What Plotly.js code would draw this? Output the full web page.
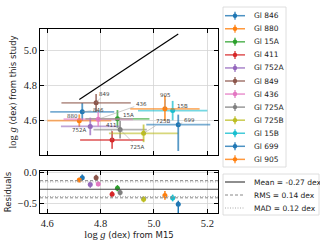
<!DOCTYPE html>
<html><head><meta charset="utf-8">
<script src="https://cdn.plot.ly/plotly-3.0.1.min.js"></script>
<style>html,body{margin:0;padding:0;background:#fff;}#chart{width:320px;height:240px;}</style>
</head><body><div id="chart"></div>
<script>
// ---- data ----
const stars = ['Gl 846','Gl 880','Gl 15A','Gl 411','Gl 752A','Gl 849','Gl 436','Gl 725A','Gl 725B','Gl 15B','Gl 699','Gl 905'];
const shortLabels = ['846','880','15A','411','752A','849','436','725A','725B','15B','699','905'];
const loggM15 = [4.731,4.720,4.863,4.843,4.761,4.783,4.791,4.873,4.961,5.070,5.091,5.041];
const loggStudy = [4.650,4.600,4.610,4.490,4.567,4.701,4.608,4.549,4.528,4.657,4.577,4.667];
const errM15 = [0.12,0.12,0.12,0.12,0.11,0.13,0.13,0.10,0.13,0.13,0.12,0.13];
const errStudyPlus = [0.05,0.035,0.05,0.05,0.05,0.05,0.04,0.05,0.05,0.055,0.057,0.075];
const errStudyMinus = [0.05,0.035,0.05,0.05,0.05,0.05,0.04,0.05,0.05,0.055,0.149,0.067];
const statNames = ['Mean','RMS','MAD'];
const statValues = [-0.27,0.14,0.12];

// ---- styles / positions ----
const colors = ['#1f77b4','#ff7f0e','#2ca02c','#d62728','#9467bd','#8c564b','#e377c2','#7f7f7f','#bcbd22','#17becf','#1f77b4','#ff7f0e'];
const labelOffsets = [[16,-2],[-7,-5],[11,-4],[-1,-15],[-11,4],[8,-9],[43,-15],[17,17],[19,-12],[10,-5],[11,-5],[1,-14]];
function rgba(hex,a){const n=parseInt(hex.slice(1),16);return `rgba(${n>>16},${(n>>8)&255},${n&255},${a})`;}

const W=320,H=240,L=40,R=218,T=29,B=213;
const px2x = p => (p-L)/(R-L);
const px2y = p => (B-p)/(B-T);

const SERIF = 'Liberation Serif';
const SANS = 'DejaVu Sans';

const traces = [];
for (let i=0;i<stars.length;i++){
  traces.push({
    x:[loggM15[i]], y:[loggStudy[i]], type:'scatter', mode:'markers', name:stars[i],
    xaxis:'x', yaxis:'y', showlegend:false,
    marker:{color:colors[i], size:5},
    error_x:{type:'data', array:[errM15[i]], color:rgba(colors[i],0.6), thickness:1.8, width:0},
    error_y:{type:'data', symmetric:false, array:[errStudyPlus[i]], arrayminus:[errStudyMinus[i]], color:rgba(colors[i],0.75), thickness:1.8, width:0}
  });
  traces.push({
    x:[loggM15[i]], y:[loggStudy[i]-loggM15[i]], type:'scatter', mode:'markers', name:stars[i],
    xaxis:'x2', yaxis:'y2', showlegend:false,
    marker:{color:colors[i], size:5},
    error_y:{type:'data', symmetric:false, array:[errStudyPlus[i]], arrayminus:[errStudyMinus[i]], color:colors[i], thickness:1.5, width:0}
  });
}
const lo = Math.min(...loggM15), hi = Math.max(...loggM15);
traces.push({x:[lo,hi], y:[lo,hi], type:'scatter', mode:'lines', xaxis:'x', yaxis:'y', showlegend:false, line:{color:'black', width:1.2}});

const annotations = [];
for (let i=0;i<stars.length;i++){
  annotations.push({x:loggM15[i], y:loggStudy[i], xref:'x', yref:'y', text:shortLabels[i],
    showarrow:true, arrowhead:0, arrowwidth:0.5, arrowcolor:'#999', ax:labelOffsets[i][0], ay:labelOffsets[i][1],
    standoff:0, font:{family:SANS, size:5.5, color:'#444'}});
}

const shapes = [];
const mean = statValues[0], rms = statValues[1], mad = statValues[2];
shapes.push({type:'line', xref:'x2 domain', yref:'y2', x0:0, x1:1, y0:mean, y1:mean, line:{color:'#444', width:1}});
[mean+rms, mean-rms].forEach(v=>shapes.push({type:'line', xref:'x2 domain', yref:'y2', x0:0, x1:1, y0:v, y1:v, line:{color:'#888', width:1, dash:'3px,2px'}}));
[mean+mad, mean-mad].forEach(v=>shapes.push({type:'line', xref:'x2 domain', yref:'y2', x0:0, x1:1, y0:v, y1:v, line:{color:'#aaa', width:1, dash:'1px,1.5px'}}));

// legend 1
shapes.push({type:'rect', xref:'paper', yref:'paper', x0:px2x(223), x1:px2x(286), y0:px2y(7), y1:px2y(167), line:{color:'#d6d6d6', width:0.8}, fillcolor:'rgba(255,255,255,0.9)'});
const gx0=225, gx1=245, gxm=235, tx=251.5;
for (let i=0;i<stars.length;i++){
  const ry = 15.7 + 13.06*i;
  shapes.push({type:'line', xref:'paper', yref:'paper', x0:px2x(gx0), x1:px2x(gx1), y0:px2y(ry), y1:px2y(ry), line:{color:rgba(colors[i],0.8), width:1.5}});
  shapes.push({type:'line', xref:'paper', yref:'paper', x0:px2x(gxm), x1:px2x(gxm), y0:px2y(ry-4), y1:px2y(ry+4), line:{color:rgba(colors[i],0.8), width:1.5}});
  shapes.push({type:'circle', xref:'paper', yref:'paper', x0:px2x(gxm-2.2), x1:px2x(gxm+2.2), y0:px2y(ry-2.2), y1:px2y(ry+2.2), line:{width:0}, fillcolor:colors[i]});
  annotations.push({xref:'paper', yref:'paper', x:px2x(tx), y:px2y(ry), xanchor:'left', yanchor:'middle', showarrow:false, text:stars[i], font:{family:SANS, size:7.5, color:'#222'}});
}
// legend 2
shapes.push({type:'rect', xref:'paper', yref:'paper', x0:px2x(223), x1:px2x(319), y0:px2y(174), y1:px2y(215), line:{color:'#d6d6d6', width:0.8}, fillcolor:'rgba(255,255,255,0.9)'});
const statStyles = [{color:'#444', width:1.2},{color:'#888', width:1, dash:'3px,2px'},{color:'#aaa', width:1, dash:'1px,1.5px'}];
const statText = [`${statNames[0]} = ${mean.toFixed(2)} dex`, `${statNames[1]} = ${rms.toFixed(2)} dex`, `${statNames[2]} = ${mad.toFixed(2)} dex`];
for (let i=0;i<3;i++){
  const ry = 182 + 13*i;
  shapes.push({type:'line', xref:'paper', yref:'paper', x0:px2x(gx0), x1:px2x(gx1), y0:px2y(ry), y1:px2y(ry), line:statStyles[i]});
  annotations.push({xref:'paper', yref:'paper', x:px2x(tx), y:px2y(ry), xanchor:'left', yanchor:'middle', showarrow:false, text:statText[i], font:{family:SANS, size:7.5, color:'#222'}});
}

const axCommon = {showline:true, linecolor:'black', linewidth:1, mirror:'ticks', ticks:'inside', ticklen:4, tickcolor:'black',
  showgrid:true, gridcolor:'#d4d4d4', gridwidth:0.8, zeroline:false, tickfont:{family:SERIF, size:10.5, color:'#222'}};
const xr = [4.5726, 5.240];
const logg = `<span style="font-family:${SERIF};font-size:10.5px">log <i>g</i></span>`;
const layout = {
  width:W, height:H, margin:{l:L, r:W-R, t:T, b:H-B}, paper_bgcolor:'white', plot_bgcolor:'white', showlegend:false,
  xaxis:Object.assign({}, axCommon, {domain:[0,1], anchor:'y', range:xr, tickvals:[4.6,4.8,5.0,5.2], showticklabels:false}),
  yaxis:Object.assign({}, axCommon, {domain:[px2y(155),1], anchor:'x', range:[4.405,5.12], tickvals:[4.6,4.8,5.0], tickformat:'.1f',
    title:{text:`${logg} (dex) from this study`, font:{family:SANS, size:8.5, color:'#222'}, standoff:5}}),
  xaxis2:Object.assign({}, axCommon, {domain:[0,1], anchor:'y2', range:xr, tickvals:[4.6,4.8,5.0,5.2], tickformat:'.1f',
    title:{text:`${logg} (dex) from M15`, font:{family:SANS, size:8.5, color:'#222'}, standoff:2}}),
  yaxis2:Object.assign({}, axCommon, {domain:[0,px2y(171)], anchor:'x2', range:[-0.658,0.028], tickvals:[0,-0.5], tickformat:'.1f',
    title:{text:'Residuals', font:{family:SANS, size:8.5, color:'#222'}, standoff:4}}),
  shapes:shapes, annotations:annotations
};
Plotly.newPlot('chart', traces, layout, {staticPlot:true, displayModeBar:false});
</script>
</body></html>
